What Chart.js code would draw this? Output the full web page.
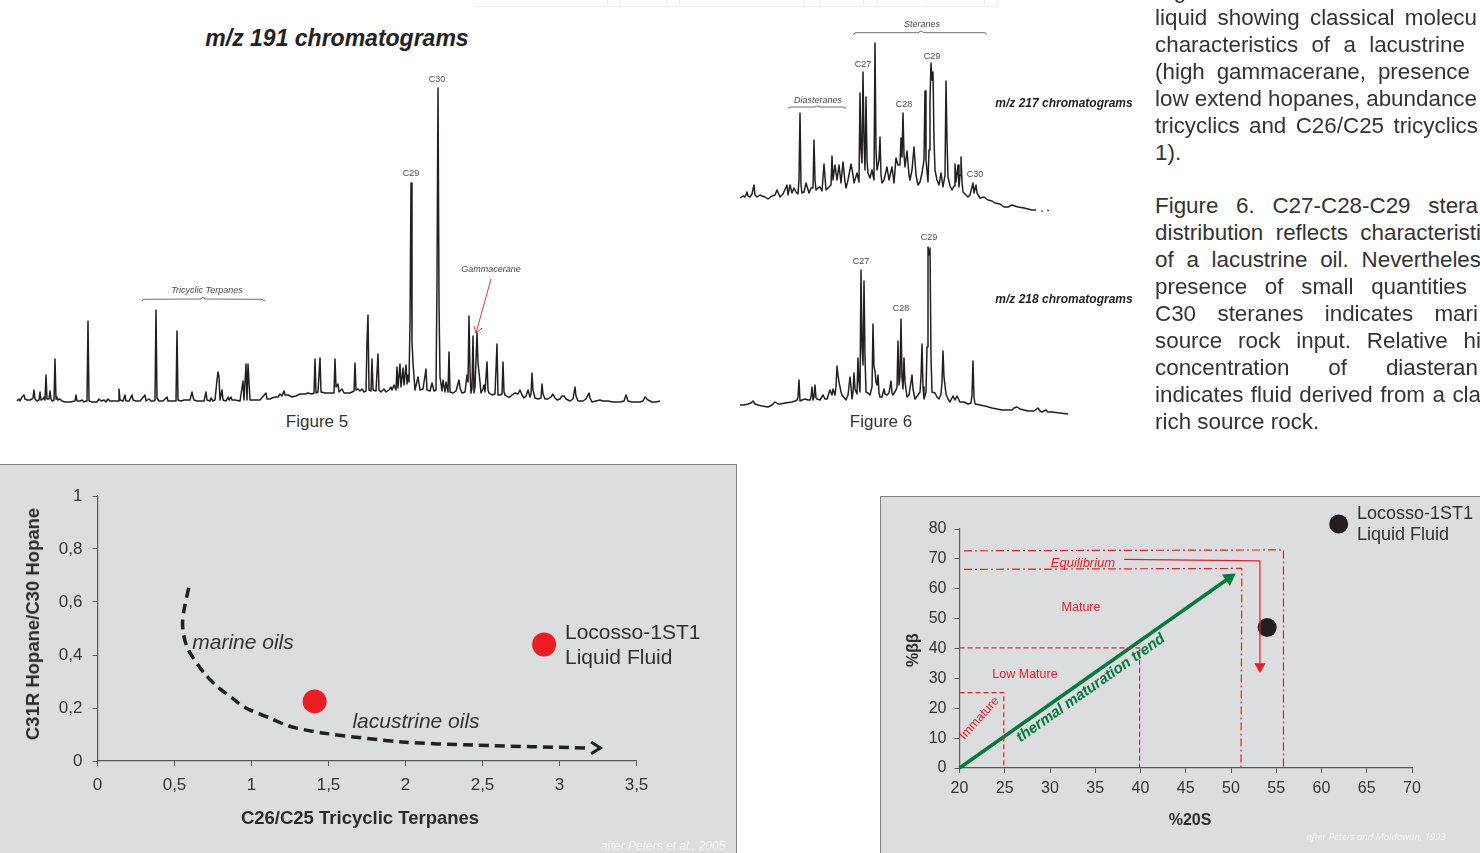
<!DOCTYPE html>
<html><head><meta charset="utf-8">
<script src="https://cdn.jsdelivr.net/npm/chart.js@4/dist/chart.umd.min.js"></script>
<style>
html,body{margin:0;padding:0;background:#fff;width:1480px;height:853px;overflow:hidden;font-family:"Liberation Sans",Arial,sans-serif}
#page{position:relative;width:1480px;height:853px;overflow:hidden}
canvas{position:absolute;display:block}
.panel{position:absolute;background:#dcddde;box-sizing:border-box}
.t{position:absolute;white-space:nowrap;transform:translate(-50%,-50%);z-index:5;line-height:1}
.l{transform:translate(0,-50%)}
.small{font:italic 9px "Liberation Sans";color:#4a4a4a}
.red{color:#ed1c24}
.ax{font:bold 18.5px "Liberation Sans";color:#2b2b2b}
.line{font:22.4px "Liberation Sans";color:#333}
.tab{position:absolute;top:0;height:6px;border-right:1px solid #f0f1f7;border-bottom:1px solid #f0f1f7}
</style></head><body><div id="page">
<div class="panel" style="left:0;top:464px;width:737px;height:389px;border-top:1.5px solid #808285;border-right:1.5px solid #808285"></div>
<div class="panel" style="left:880px;top:496px;width:600px;height:357px;border-top:1.5px solid #808285;border-left:1.5px solid #808285"></div>
<div id="tabs"></div>

<canvas id="c191" width="680" height="350" style="left:0;top:60px"></canvas>
<canvas id="c217" width="345" height="210" style="left:735px;top:10px"></canvas>
<canvas id="c218" width="345" height="195" style="left:735px;top:225px"></canvas>
<canvas id="cOil" width="737" height="388" style="left:0;top:465px"></canvas>
<canvas id="cMat" width="600" height="356" style="left:880px;top:497px"></canvas>

<div class="t" style="left:337px;top:37.5px;font:italic bold 23px 'Liberation Sans';color:#222">m/z 191 chromatograms</div>
<div class="t" style="left:317px;top:422px;font:17px 'Liberation Sans';color:#333">Figure 5</div>
<div class="t" style="left:881px;top:422px;font:17px 'Liberation Sans';color:#333">Figure 6</div>
<div class="t small" style="left:437px;top:78.5px;font-style:normal">C30</div>
<div class="t small" style="left:411px;top:173px;font-style:normal">C29</div>
<div class="t small" style="left:207px;top:290px">Tricyclic Terpanes</div>
<div class="t small" style="left:491px;top:269px">Gammacerane</div>
<div class="t small" style="left:922px;top:24px">Steranes</div>
<div class="t small" style="left:818px;top:100px">Diasteranes</div>
<div class="t small" style="left:863px;top:64px;font-style:normal">C27</div>
<div class="t small" style="left:904px;top:104px;font-style:normal">C28</div>
<div class="t small" style="left:932px;top:56px;font-style:normal">C29</div>
<div class="t small" style="left:975px;top:174px;font-style:normal">C30</div>
<div class="t small" style="left:861px;top:261px;font-style:normal">C27</div>
<div class="t small" style="left:901px;top:308px;font-style:normal">C28</div>
<div class="t small" style="left:929px;top:237px;font-style:normal">C29</div>
<div class="t" style="left:1064px;top:103px;font:italic bold 12px 'Liberation Sans';color:#222">m/z 217 chromatograms</div>
<div class="t" style="left:1064px;top:299px;font:italic bold 12px 'Liberation Sans';color:#222">m/z 218 chromatograms</div>

<div class="t ax" style="left:33px;top:624px;transform:translate(-50%,-50%) rotate(-90deg)">C31R Hopane/C30 Hopane</div>
<div class="t ax" style="left:360px;top:818px">C26/C25 Tricyclic Terpanes</div>
<div class="t" style="left:243px;top:642px;font:italic 21px 'Liberation Sans';color:#333">marine oils</div>
<div class="t" style="left:416px;top:721px;font:italic 21px 'Liberation Sans';color:#333">lacustrine oils</div>
<div class="t l" style="left:565px;top:632px;font:21px 'Liberation Sans';color:#2f2f2f">Locosso-1ST1</div>
<div class="t l" style="left:565px;top:657px;font:21px 'Liberation Sans';color:#2f2f2f">Liquid Fluid</div>
<div class="t" style="left:663px;top:846px;font:italic 12px 'Liberation Sans';color:#f4f4f4">after Peters et al., 2005</div>

<div class="t ax" style="left:913px;top:650px;font-size:16px;transform:translate(-50%,-50%) rotate(-90deg)">%ββ</div>
<div class="t ax" style="left:1190px;top:820px;font-size:16px">%20S</div>
<div class="t l" style="left:1357px;top:513px;font:18px 'Liberation Sans';color:#2f2f2f">Locosso-1ST1</div>
<div class="t l" style="left:1357px;top:534px;font:18px 'Liberation Sans';color:#2f2f2f">Liquid Fluid</div>
<div class="t red" style="left:1083px;top:562px;font:italic 13px 'Liberation Sans'">Equilibrium</div>
<div class="t red" style="left:1081px;top:607px;font:12.5px 'Liberation Sans'">Mature</div>
<div class="t red" style="left:1025px;top:674px;font:12.5px 'Liberation Sans'">Low Mature</div>
<div class="t red" style="left:979px;top:718px;font:12.5px 'Liberation Sans';transform:translate(-50%,-50%) rotate(-48deg)">Immature</div>
<div class="t" style="left:1090px;top:687px;font:italic bold 15px 'Liberation Sans';color:#007a3d;transform:translate(-50%,-50%) rotate(-35deg)">thermal maturation trend</div>
<div class="t" style="left:1376px;top:836px;font:italic 9.5px 'Open Sans';color:#f4f4f4">after Peters and Moldowan, 1993</div>
<div id="body"></div>
</div>
<script>
// m/z 191 trace: [retention position, abundance]
const trace191=[[17,1],[19,3],[20,1],[22,5],[24,7],[25,3],[27,2],[30,2],[32,3],[33,4],[34,12],[35,3],[37,1],[39,2],[40,10],[41,2],[43,3],[44,5],[45,2],[46,27],[47,3],[49,3],[50,11],[51,3],[52,1],[54,2],[55,43],[56,3],[57,5],[58,2],[60,3],[62,1],[65,0],[70,0],[75,1],[76,7],[77,1],[80,1],[82,2],[84,0],[86,1],[87,1],[88,81],[89,1],[92,0],[97,0],[99,3],[101,1],[104,2],[106,0],[108,3],[110,1],[112,1],[117,1],[118,1],[119,13],[120,2],[123,1],[125,7],[126,1],[129,1],[132,7],[133,2],[136,1],[140,1],[145,7],[146,1],[149,3],[151,1],[154,1],[155,2],[156,92],[157,4],[159,1],[163,1],[167,5],[168,1],[172,1],[175,1],[176,1],[177,71],[178,2],[181,1],[184,2],[187,2],[190,2],[192,10],[193,5],[194,2],[197,1],[200,1],[204,1],[206,10],[207,2],[210,1],[211,4],[213,1],[215,2],[217,22],[218,30],[219,25],[220,2],[222,12],[223,2],[226,1],[228,5],[229,2],[231,5],[232,2],[235,2],[240,1],[243,21],[244,2],[246,38],[247,2],[248,38],[249,38],[250,2],[252,2],[255,2],[258,2],[260,2],[266,9],[267,3],[270,3],[272,4],[275,5],[278,5],[280,8],[282,6],[284,11],[285,7],[288,7],[292,5],[296,6],[300,8],[305,8],[308,9],[312,8],[314,9],[315,43],[316,9],[318,10],[320,44],[321,10],[325,9],[330,9],[334,9],[335,43],[336,15],[338,18],[339,10],
[342,13],[344,9],[350,9],[354,11],[355,39],[356,12],[358,13],[360,11],[362,13],[364,10],[366,11],[367,60],[368,87],[369,12],[371,11],[372,43],[373,12],[376,11],[378,48],[379,12],[381,10],[384,13],[386,10],[389,12],[391,15],[392,12],[394,17],[396,12],[397,35],[398,14],[400,38],[401,15],[403,34],[404,17],[406,37],[407,18],[408,27],[409,20],[410,80],[411,219],[412,60],[413,39],[415,12],[418,25],[420,12],[423,13],[426,33],[427,12],[430,11],[432,19],[434,11],[436,12],[437,120],[438,314],[439,100],[440,25],[442,11],[443,22],[445,10],[446,20],[448,10],[449,50],[450,10],[453,9],[456,11],[459,22],[460,14],[462,9],[465,10],[467,27],[468,20],[469,86],[470,30],[471,9],[472,14],[473,66],[474,9],[475,15],[477,69],[478,39],[480,20],[481,9],[483,13],[484,17],[485,10],[487,40],[488,12],[489,9],[492,7],[495,8],[497,58],[498,7],[500,7],[502,8],[503,40],[504,10],[505,7],[508,5],[510,5],[512,7],[515,9],[518,8],[520,12],[522,7],[524,4],[526,6],[528,12],[530,5],[531,8],[532,29],[533,12],[535,4],[538,3],[541,4],[542,18],[543,8],[545,3],[548,3],[551,5],[553,8],[555,4],[557,2],[560,3],[562,6],[564,6],[566,3],[570,1],[573,3],[575,15],[576,6],[578,1],[583,1],[586,3],[589,9],[590,4],[592,0],[596,1],[600,2],[603,1],[608,1],[613,0],[620,0],[624,1],[626,7],[628,1],[632,0],[640,0],[643,1],[645,5],[648,2],[652,0],[656,0],[660,1]];
const brace191=[[142,101],[144,102.7],[200,103],[203,104.7],[205,103],[262,102.7],[265,101]];
const arrow191=[[491,123],[476,69]];
const arrowHead191=[[474,76],[476,69],[482,74]];

// m/z 217 trace
const trace217=[[740,2],[743,4],[745,3],[747,8],[748,4],[750,3],[752,6],[754,15],[755,5],[757,3],[760,5],[762,4],[765,3],[768,1],[772,4],[775,5],[777,10],[780,3],[783,6],[787,15],[788,5],[790,15],[792,7],[794,12],[796,8],[798,6],[799,20],[800,87],[801,15],[802,7],[804,8],[806,17],[809,7],[811,12],[813,12],[814,60],[815,20],[816,10],[818,12],[820,13],[822,9],[824,36],[826,10],[829,13],[831,15],[832,44],[833,20],[835,35],[837,20],[839,35],[841,17],[843,38],[845,18],[846,12],[848,20],[851,36],[853,25],[854,17],[857,27],[859,18],[860,107],[861,50],[862,37],[863,128],[864,60],[865,30],[866,103],[867,40],[868,27],[870,22],[872,30],[874,20],[875,157],[876,50],[877,30],[879,40],[880,63],[881,25],[882,17],[884,20],[887,33],[889,20],[892,33],[894,17],[896,42],[898,35],[900,35],[901,62],[902,43],[903,87],[904,45],[905,33],[907,49],[909,25],[910,20],[912,30],[914,53],[916,25],[918,15],[920,18],[922,27],[924,40],[925,109],[926,40],[928,18],[929,50],[930,100],[931,137],[932,120],[933,128],[934,60],[935,30],[937,20],[939,15],[941,27],[943,13],[945,25],[946,119],[947,60],[948,23],[950,14],[952,10],[954,14],[955,36],[956,18],[958,35],[959,13],[960,25],[961,43],[962,18],[963,8],[966,5],[968,3],[970,5],[973,17],[974,7],[976,15],[977,7],[980,2],[984,3],[988,0],[992,-1],[995,-3],[1000,-4],[1004,-7],[1008,-7],[1012,-5],[1018,-7],[1024,-8],[1032,-10],[1036,-10]];
const tail217=[[1041,-11],[1043,-11]];
const tail217b=[[1047,-10],[1049,-10.5]];
const braceSteranes=[[853,165.7],[856,167.3],[918,167.3],[921,169],[924,167.3],[985,167.3],[987,165.7]];
const braceDiasteranes=[[788,91.7],[791,93],[815,93],[817,94],[820,93],[843,93],[846,91.7]];

// m/z 218 trace
const trace218=[[740,2],[744,2],[748,3],[751,4],[753,6],[755,3],[758,2],[762,1],[768,0],[772,2],[775,5],[778,3],[780,3],[785,4],[792,5],[795,6],[797,7],[798,10],[799,27],[800,6],[802,7],[805,8],[808,7],[810,7],[811,10],[812,20],[813,7],[814,10],[815,22],[816,9],[817,8],[820,7],[823,12],[825,8],[827,8],[830,17],[832,12],[833,18],[835,12],[836,20],[837,41],[838,32],[839,25],[841,15],[842,12],[846,7],[848,12],[850,30],[851,20],[852,8],[853,15],[854,34],[855,18],[857,13],[858,49],[859,25],[860,15],[861,137],[862,60],[863,42],[864,126],[865,50],[866,15],[868,14],[870,12],[872,20],[873,83],[874,40],[875,36],[876,25],[877,22],[878,32],[879,14],[880,10],[882,10],[884,18],[885,13],[887,12],[889,14],[891,26],[892,14],[893,12],[896,17],[897,20],[898,66],[899,22],[900,30],[901,88],[902,30],[903,18],[904,49],[905,25],[907,10],[909,12],[911,25],[912,32],[913,18],[915,8],[918,12],[920,15],[921,30],[922,63],[923,20],[924,8],[926,15],[927,60],[928,160],[929,152],[930,159],[931,50],[932,15],[935,14],[937,10],[939,8],[941,13],[942,25],[943,56],[944,30],[946,13],[948,8],[950,5],[953,11],[955,7],[957,11],[960,5],[964,5],[968,3],[971,4],[972,12],[973,46],[974,10],[975,3],[980,2],[985,1],[992,-1],[1002,-3],[1008,-3],[1012,-3],[1014,-1],[1017,0],[1020,-2],[1028,-4],[1034,-4],[1038,-1],[1040,-4],[1042,-5],[1046,-3],[1048,-5],[1052,-5],[1060,-6],[1068,-7]];

// C26/C25 vs C31R/C30 cross-plot
const oilTicksX=['0','0,5','1','1,5','2','2,5','3','3,5'];
const oilTicksY=['0','0,2','0,4','0,6','0,8','1'];
const oilSamples=[[1.41,0.225],[2.9,0.44]];
const oilCurve=[[0.592,0.653],[0.562,0.57],[0.552,0.52],[0.562,0.468],[0.59,0.419],[0.692,0.332],[0.782,0.279],[0.873,0.238],[0.964,0.2],[1.12,0.162],[1.243,0.132],[1.458,0.106],[1.98,0.072],[2.44,0.06],[3.2,0.049]];
const oilArrow=[[3.205,0.072],[3.265,0.049],[3.205,0.027]];

// Sterane maturity cross-plot
const matTicksX=['20','25','30','35','40','45','50','55','60','65','70'];
const matTicksY=['0','10','20','30','40','50','60','70','80'];
const matSample=[[54,47]];
const matLegendPoint=[[61.9,81.7]];
const immature=[[20,25.2],[24.9,25.2],[24.9,0]];
const lowMature=[[20,40.2],[39.9,40.2],[39.9,0]];
const mature=[[20.5,66.5],[51.2,66.8],[51.1,0]];
const equilibrium=[[20.5,72.7],[55.8,73],[55.8,0]];
const equilibriumArrow=[[38.2,69.8],[53.2,69.3],[53.2,34]];
const maturationTrend=[[20,0],[49.8,63.6]];

// Page text as it appears in the right-hand column
const bodyText=['Figure','liquid showing classical molecu','characteristics of a lacustrine','(high gammacerane, presence','low extend hopanes, abundance','tricyclics and C26/C25 tricyclics','1).','Figure 6. C27-C28-C29 stera','distribution reflects characteristi','of a lacustrine oil. Nevertheles','presence of small quantities','C30 steranes indicates mari','source rock input. Relative hi','concentration of diasteran','indicates fluid derived from a cla','rich source rock.'];
const bodyY=[-9,18,45,72,99,126,153,206,233,260,287,314,341,368,395,422];
const bodyEnd=[0,1477,1465,1470,1477,1478,0,1478,1481,1481,1467,1478,1481,1478,1481,0];
const tableRules=[476,608,621,667,680,804,820,864,878,927,985,998];

const INK='#231f20',AXIS='#58595b',RED='#ed1c24',GREEN='#007a3d',TICK='#333333';
const xy=a=>a.map(p=>({x:p[0],y:p[1]}));
const ln=(a,color,width,extra)=>Object.assign({data:xy(a),showLine:true,borderColor:color,backgroundColor:color,borderWidth:width,pointRadius:0,tension:0,clip:false,borderJoinStyle:'round'},extra||{});
const base=()=>({responsive:false,animation:false,events:[],plugins:{legend:{display:false},tooltip:{enabled:false}}});

function trace(id,x0,x1,y0,y1,datasets){
  new Chart(document.getElementById(id),{type:'scatter',data:{datasets},options:Object.assign(base(),{
    layout:{padding:0},
    scales:{x:{type:'linear',display:false,min:x0,max:x1},y:{type:'linear',display:false,min:y0,max:y1}}})});
}
const GREY='#4a4a4a';
trace('c191',0,680,-8,342,[ln(trace191,INK,1.5),ln(brace191,GREY,.8),ln(arrow191,RED,.9),ln(arrowHead191,RED,.9)]);
trace('c217',735,1080,-20,190,[ln(trace217,INK,1.5),ln(tail217,INK,1.2),ln(tail217b,INK,1.2),ln(braceSteranes,GREY,.8),ln(braceDiasteranes,GREY,.8)]);
trace('c218',735,1080,-13,182,[ln(trace218,INK,1.5)]);

function axis(min,max,step,labels,opt){
  return {type:'linear',min,max,offset:false,
    afterFit:s=>{if(opt.width!==undefined)s.width=opt.width;if(opt.height!==undefined)s.height=opt.height;},
    grid:{drawOnChartArea:false,drawTicks:true,tickLength:5,color:AXIS,lineWidth:1},
    border:{display:true,color:AXIS,width:1.2},
    afterBuildTicks:s=>{s.ticks=labels.map((_,i)=>({value:min+i*step}));},
    ticks:{color:TICK,font:{family:'Liberation Sans',size:opt.size},padding:opt.pad,maxRotation:0,autoSkip:false,
      callback:(v,i)=>labels[i]}};
}
new Chart(document.getElementById('cOil'),{type:'scatter',data:{datasets:[
  ln(oilCurve,INK,3.5,{borderDash:[10,6],tension:.3,borderCapStyle:'butt'}),
  ln(oilArrow,INK,3,{borderJoinStyle:'miter'}),
  {data:xy(oilSamples),pointRadius:12,pointBackgroundColor:RED,pointBorderWidth:0,showLine:false,clip:false}
]},options:Object.assign(base(),{
  layout:{padding:{left:0,top:31,right:100.5,bottom:0}},
  scales:{x:axis(0,3.5,.5,oilTicksX,{height:92,size:17,pad:9}),y:axis(0,1,.2,oilTicksY,{width:97.5,size:17,pad:10})}
})});
new Chart(document.getElementById('cMat'),{type:'scatter',data:{datasets:[
  ln(immature,RED,1.2,{borderDash:[5,3]}),
  ln(lowMature,RED,1.2,{borderDash:[5,3]}),
  ln(mature,RED,1.2,{borderDash:[8,3,2,3]}),
  ln(equilibrium,RED,1.2,{borderDash:[8,3,2,3]}),
  ln(equilibriumArrow,RED,1.2,{pointRadius:[0,0,6.5],pointStyle:'triangle',pointRotation:180,pointBackgroundColor:RED,pointBorderWidth:0}),
  ln(maturationTrend,GREEN,3.5,{pointRadius:[0,8],pointStyle:'triangle',pointRotation:55,pointBackgroundColor:GREEN,pointBorderWidth:0}),
  {data:xy(matSample.concat(matLegendPoint)),pointRadius:9.5,pointBackgroundColor:INK,pointBorderWidth:0,showLine:false,clip:false}
]},options:Object.assign(base(),{
  layout:{padding:{left:0,top:32,right:68,bottom:0}},
  scales:{x:axis(20,70,5,matTicksX,{height:85,size:16,pad:6}),y:axis(0,80,10,matTicksY,{width:79.5,size:16,pad:8})}
})});

// page furniture built after the charts
const tabs=document.getElementById('tabs');
tableRules.forEach((x,i)=>{if(i){const d=document.createElement('div');d.className='tab';d.style.left=tableRules[i-1]+'px';d.style.width=(x-tableRules[i-1]-1)+'px';tabs.appendChild(d);}});
const bodyEl=document.getElementById('body');
const mc=document.createElement('canvas').getContext('2d');mc.font='22.4px "Liberation Sans"';
bodyText.forEach((s,i)=>{
  const d=document.createElement('div');d.className='t l line';d.textContent=s;
  d.style.left='1155px';d.style.top=bodyY[i]+'px';
  if(bodyEnd[i]){const n=s.split(' ').length-1;const w=mc.measureText(s).width;d.style.wordSpacing=((bodyEnd[i]-1155-w)/n)+'px';}
  bodyEl.appendChild(d);
});
</script>
</body></html>
